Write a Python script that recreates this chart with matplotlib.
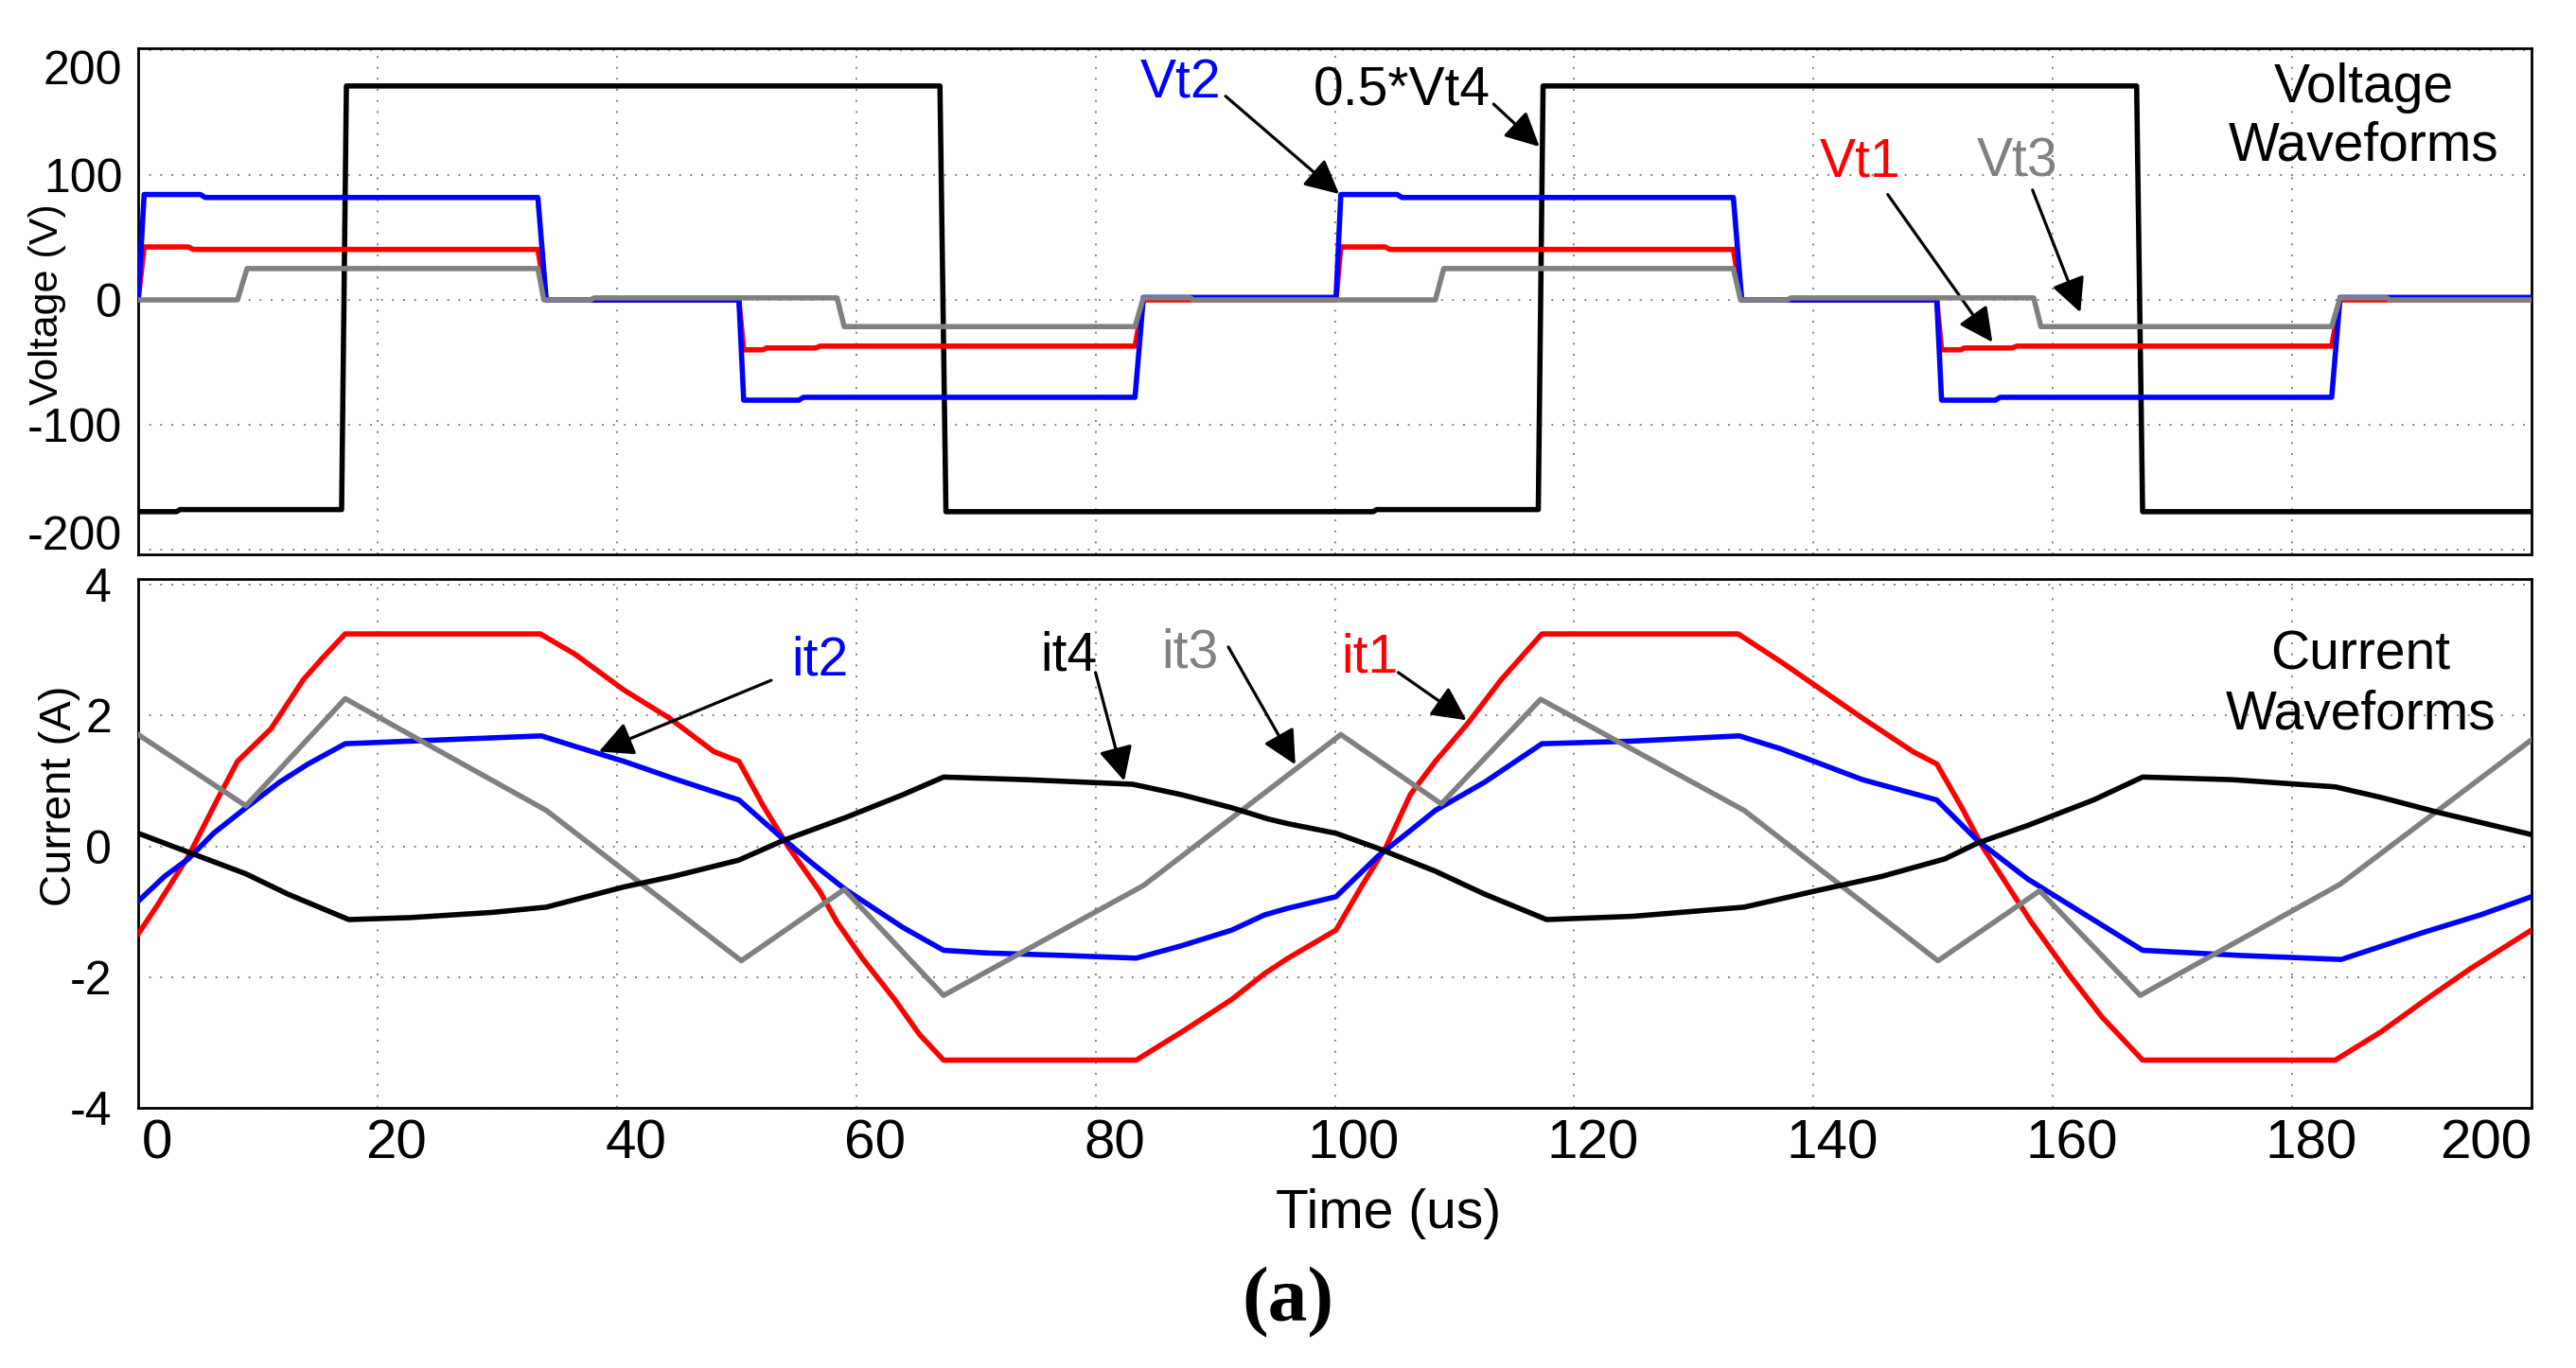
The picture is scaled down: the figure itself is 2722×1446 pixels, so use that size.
import matplotlib
matplotlib.use("Agg")
import matplotlib.pyplot as plt
from matplotlib.transforms import ScaledTranslation

plt.rcParams['font.family'] = ['Liberation Sans', 'DejaVu Sans']

# ---------------- data ----------------
time_ticks = [0, 20, 40, 60, 80, 100, 120, 140, 160, 180, 200]
volt_ticks = [-200, -100, 0, 100, 200]
curr_ticks = [-4, -2, 0, 2, 4]

# 0.5*Vt4 (black)
t_vt4 = [0, 3.2, 3.5, 17.0, 17.4, 67.0, 67.5, 103.2, 103.5, 117.0, 117.4, 167.0, 167.5, 200]
v_vt4 = [-169.6, -169.6, -167.9, -167.9, 171.3, 171.3, -169.6, -169.6, -167.9, -167.9,
         171.3, 171.3, -169.6, -169.6]

# Vt2 (blue)
t_vt2 = [0, 0.5, 5.2, 5.6, 33.4, 34.1, 50.2, 50.6, 55.2, 55.6, 83.3, 84.0, 100.1, 100.5,
         105.2, 105.6, 133.3, 134.0, 150.3, 150.7, 155.2, 155.6, 183.3, 184.0, 200]
v_vt2 = [0, 84.4, 84.4, 82.0, 82.0, 0, 0, -80.3, -80.3, -78.0, -78.0, 2.0, 2.0, 84.4,
         84.4, 82.0, 82.0, 0, 0, -80.3, -80.3, -78.0, -78.0, 2.0, 2.0]

# Vt1 (red)
t_vt1 = [0, 0.5, 4.2, 4.6, 33.4, 34.1, 50.2, 50.6, 52.2, 52.5, 56.6, 57.0, 83.3, 84.0,
         100.1, 100.5, 104.2, 104.6, 133.3, 134.0, 150.3, 150.7, 152.3, 152.6, 156.6, 157.0,
         183.3, 184.0, 200]
v_vt1 = [0, 42.4, 42.4, 40.4, 40.4, 0, 0, -40.0, -40.0, -38.5, -38.5, -37.0, -37.0, 0,
         0, 42.4, 42.4, 40.4, 40.4, 0, 0, -40.0, -40.0, -38.5, -38.5, -37.0,
         -37.0, 0, 0]

# Vt3 (gray)
t_vt3 = [0, 8.3, 9.1, 33.4, 33.9, 37.8, 38.1, 58.4, 59.0, 83.3, 84.0, 87.9, 88.2,
         108.4, 109.1, 133.3, 133.9, 137.8, 138.1, 158.4, 159.0, 183.3, 184.0, 187.9, 188.2, 200]
v_vt3 = [0, 0, 25.1, 25.1, 0, 0, 1.6, 1.6, -21.4, -21.4, 1.6, 1.6, 0,
         0, 25.1, 25.1, 0, 0, 1.6, 1.6, -21.4, -21.4, 1.6, 1.6, 0, 0]

# it1 (red)
t_it1 = [0, 1.5, 4.2, 6.6, 8.3, 11.1, 13.8, 15.5, 17.3, 33.6, 36.5, 40.6, 44.4, 48.1, 50.2,
         52.2, 54.3, 57.0, 58.4, 60.5, 63.2, 65.3, 67.3, 83.4, 87.2, 91.4, 94.1, 96.0, 100.1,
         102.2, 104.3, 106.3, 108.4, 111.1, 113.9, 117.3, 133.7, 137.3, 140.7, 144.1, 148.3,
         150.3, 152.4, 154.1, 158.2, 161.3, 164.1, 167.5, 183.6, 187.4, 191.5, 194.9, 200]
i_it1 = [-1.34, -0.93, -0.15, 0.71, 1.30, 1.80, 2.55, 2.90, 3.25, 3.25, 2.94, 2.39, 1.96, 1.45,
         1.30, 0.63, 0.0, -0.70, -1.16, -1.71, -2.34, -2.88, -3.27, -3.27, -2.84, -2.34, -1.95,
         -1.72, -1.28, -0.62, 0.0, 0.79, 1.30, 1.88, 2.55, 3.25, 3.25, 2.82, 2.39, 1.96, 1.45,
         1.26, 0.59, 0.0, -1.16, -1.95, -2.61, -3.27, -3.27, -2.84, -2.30, -1.87, -1.28]

# it2 (blue)
t_it2 = [0, 2.2, 4.2, 6.3, 9.0, 11.8, 14.2, 17.3, 22.7, 29.6, 33.7, 36.5, 40.6, 44.7, 50.2,
         53.6, 56.4, 59.1, 63.9, 67.3, 70.8, 77.6, 83.4, 87.2, 91.4, 94.1, 96.0, 100.1, 103.6,
         106.3, 108.4, 112.5, 117.3, 124.9, 133.8, 137.3, 144.1, 150.3, 153.7, 157.9, 167.5,
         175.8, 184.1, 190.9, 195.7, 200]
i_it2 = [-0.84, -0.46, -0.19, 0.20, 0.59, 0.98, 1.26, 1.57, 1.61, 1.66, 1.69, 1.53, 1.30, 1.04,
         0.71, 0.16, -0.27, -0.66, -1.24, -1.59, -1.63, -1.67, -1.71, -1.52, -1.28, -1.05, -0.95,
         -0.77, -0.15, 0.24, 0.55, 0.98, 1.57, 1.61, 1.69, 1.49, 1.02, 0.71, 0.09, -0.50, -1.59,
         -1.67, -1.73, -1.32, -1.05, -0.77]

# it3 (gray)
t_it3 = [0, 9.0, 17.3, 34.1, 50.4, 59.0, 67.3, 84.0, 100.5, 108.9, 117.2, 134.2, 150.4, 158.9,
         167.3, 184.0, 200]
i_it3 = [1.71, 0.62, 2.26, 0.55, -1.75, -0.66, -2.28, -0.60, 1.71, 0.65, 2.25, 0.55, -1.75,
         -0.68, -2.28, -0.58, 1.63]

# it4 (black)
t_it4 = [0, 2.9, 9.0, 12.5, 17.6, 22.7, 29.6, 34.1, 40.6, 44.7, 50.2, 53.9, 59.1, 63.9, 67.3,
         74.2, 83.1, 87.2, 91.4, 94.4, 96.0, 100.1, 103.6, 108.4, 112.5, 117.7, 124.9, 134.2,
         140.7, 145.7, 151.0, 153.7, 157.9, 163.4, 167.5, 175.0, 183.6, 187.4, 192.2, 200]
i_it4 = [0.20, 0.0, -0.42, -0.73, -1.12, -1.09, -1.01, -0.93, -0.62, -0.46, -0.21, 0.09, 0.44,
         0.79, 1.06, 1.02, 0.95, 0.79, 0.59, 0.42, 0.35, 0.20, -0.03, -0.38, -0.73, -1.12, -1.07,
         -0.93, -0.66, -0.46, -0.19, 0.05, 0.32, 0.71, 1.06, 1.02, 0.91, 0.75, 0.52, 0.18]

# ---------------- figure ----------------
BLUE, RED, GRAY, BLACK = '#0000ff', '#ff0000', '#808080', '#000000'
LW = 4.0

fig = plt.figure(figsize=(27.22, 14.46), dpi=100)
ax1 = fig.add_axes([0.05364, 0.59474, 0.92910, 0.37026])
ax2 = fig.add_axes([0.05364, 0.19018, 0.92910, 0.38658])

for ax in (ax1, ax2):
    ax.set_xlim(0, 200)
    ax.set_xticks(time_ticks)
    ax.set_axisbelow(True)
    ax.grid(True, color=GRAY, linestyle=(0, (1, 5)), linewidth=1.4)
    for s in ax.spines.values():
        s.set_linewidth(2.0)
        s.set_color('black')
    ax.tick_params(length=0)

# voltage panel
ax1.plot(t_vt4, v_vt4, color=BLACK, lw=LW, zorder=2)
ax1.plot(t_vt1, v_vt1, color=RED, lw=LW, zorder=3)
ax1.plot(t_vt2, v_vt2, color=BLUE, lw=LW, zorder=4)
ax1.plot(t_vt3, v_vt3, color=GRAY, lw=LW, zorder=5)
ax1.set_ylim(-203.8, 201.8)
ax1.set_yticks(volt_ticks)
ax1.set_yticklabels([str(v) for v in volt_ticks])
ax1.tick_params(axis='y', labelsize=36, pad=12)
ax1.tick_params(axis='x', labelbottom=False)
ylabs = ax1.get_yticklabels()
ylabs[-1].set_va('top')
ylabs[0].set_va('baseline')
ax1.set_ylabel('Voltage (V)', fontsize=31)
ax1.yaxis.label.set_va('center')
ax1.yaxis.set_label_coords(-0.038, 0.493)

# current panel
ax2.plot(t_it1, i_it1, color=RED, lw=LW, zorder=3)
ax2.plot(t_it2, i_it2, color=BLUE, lw=LW, zorder=4)
ax2.plot(t_it3, i_it3, color=GRAY, lw=LW, zorder=5)
ax2.plot(t_it4, i_it4, color=BLACK, lw=LW, zorder=6)
ax2.set_ylim(-4.0, 4.09)
ax2.set_yticks(curr_ticks)
ax2.set_yticklabels([str(v) for v in curr_ticks])
ax2.tick_params(axis='y', labelsize=36, pad=20)
ax2.set_xticklabels([str(v) for v in time_ticks])
ax2.tick_params(axis='x', labelsize=42, pad=8)
ax2.set_ylabel('Current (A)', fontsize=34)
ax2.yaxis.label.set_va('center')
ax2.yaxis.set_label_coords(-0.0328, 0.589)
ax2.set_xlabel('Time (us)', fontsize=41)
ax2.xaxis.label.set_va('center')
ax2.xaxis.set_label_coords(0.5225, -0.2004)

# annotations
ARR = dict(arrowstyle='-|>,head_length=1.1,head_width=0.55', color='black', lw=2.3,
           shrinkA=0, shrinkB=0, mutation_scale=20)
FS = 41

ax1.text(83.7, 161.9, 'Vt2', color=BLUE, fontsize=FS, ha='left', va='baseline')
ax1.annotate('', xy=(100.36, 84.8), xytext=(90.87, 163.1), arrowprops=ARR)
ax1.text(98.2, 156.0, '0.5*Vt4', color=BLACK, fontsize=FS, ha='left', va='baseline')
ax1.annotate('', xy=(117.1, 122.7), xytext=(113.27, 156.8), arrowprops=ARR)
ax1.text(140.5, 99.2, 'Vt1', color=RED, fontsize=FS, ha='left', va='baseline')
ax1.annotate('', xy=(154.95, -33.9), xytext=(146.2, 84.4), arrowprops=ARR)
ax1.text(153.6, 99.2, 'Vt3', color=GRAY, fontsize=FS, ha='left', va='baseline')
ax1.annotate('', xy=(162.3, -10.0), xytext=(158.3, 88.0), arrowprops=ARR)
# baseline of a multi-line text refers to its last line
ax1.text(186.0, 111.4, 'Voltage\nWaveforms', color=BLACK, fontsize=FS, ha='center',
         va='baseline', multialignment='center', linespacing=1.2)

ax2.text(54.6, 2.62, 'it2', color=BLUE, fontsize=FS, ha='left', va='baseline')
ax2.annotate('', xy=(38.5, 1.45), xytext=(52.9, 2.54), arrowprops=ARR)
ax2.text(75.4, 2.70, 'it4', color=BLACK, fontsize=FS, ha='left', va='baseline')
ax2.annotate('', xy=(82.4, 1.0), xytext=(80.0, 2.66), arrowprops=ARR)
ax2.text(85.5, 2.74, 'it3', color=GRAY, fontsize=FS, ha='left', va='baseline')
ax2.annotate('', xy=(96.7, 1.25), xytext=(91.1, 3.05), arrowprops=ARR)
ax2.text(100.5, 2.66, 'it1', color=RED, fontsize=FS, ha='left', va='baseline')
ax2.annotate('', xy=(111.0, 1.93), xytext=(105.3, 2.66), arrowprops=ARR)
ax2.text(185.7, 1.80, 'Current\nWaveforms', color=BLACK, fontsize=FS, ha='center',
         va='baseline', multialignment='center', linespacing=1.2)

fig.text(0.4998, 0.0481, '(a)', fontsize=60, fontweight='bold',
         family=['Liberation Serif', 'DejaVu Serif'], ha='center', va='center')

# shift x tick labels to the right of their grid lines, last one flush right
off = ScaledTranslation(20 / 100, 0, fig.dpi_scale_trans)
xl = ax2.get_xticklabels()
for lab in xl[:-1]:
    lab.set_transform(lab.get_transform() + off)
xl[-1].set_ha('right')

fig.savefig('out.png', dpi=100)
